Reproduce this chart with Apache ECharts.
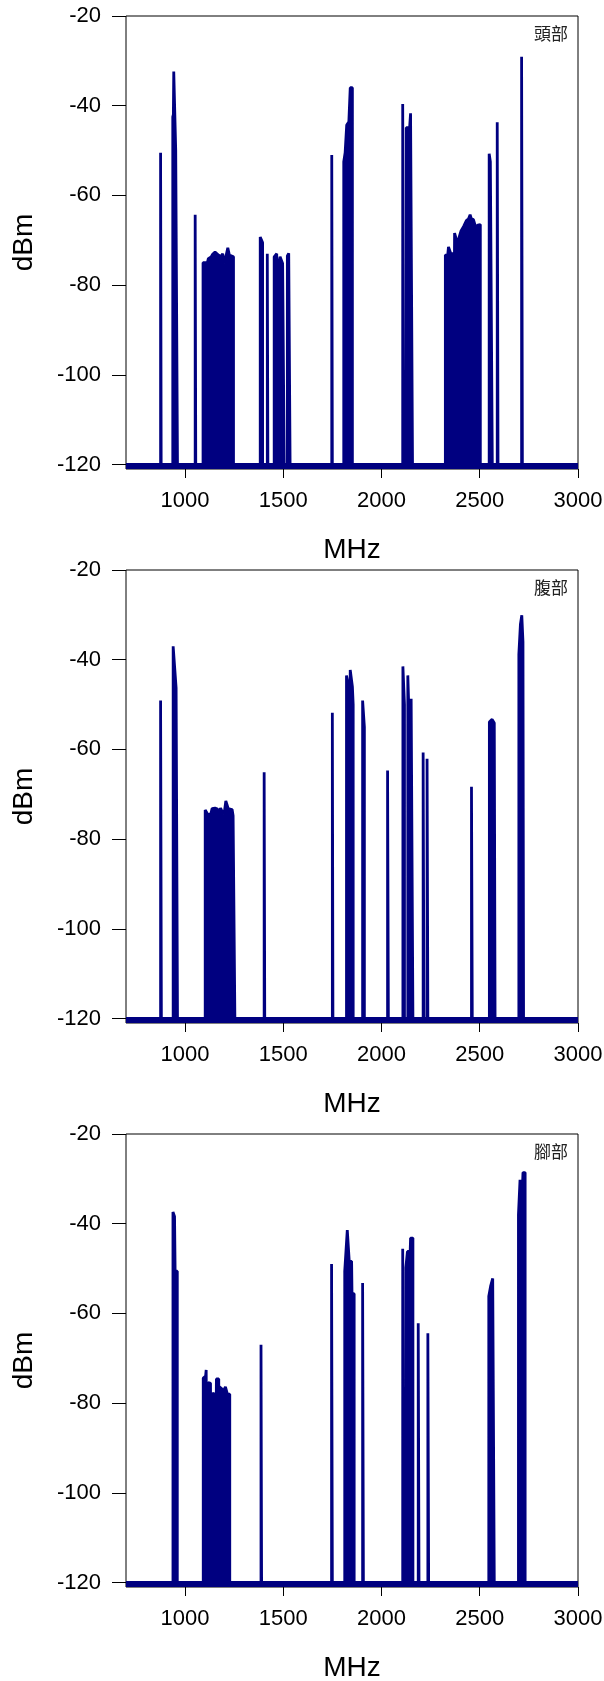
<!DOCTYPE html>
<html>
<head>
<meta charset="utf-8">
<script src="https://cdn.jsdelivr.net/npm/echarts@6/dist/echarts.min.js"></script>
<style>
html,body{margin:0;padding:0;background:#ffffff;}
#chart{width:604px;height:1681px;}
</style>
</head>
<body>
<div id="chart"></div>
<script>
// ---------------- data ----------------
const PANEL_NAMES = ['頭部', '腹部', '腳部'];
const X_NAME = 'MHz';
const Y_NAME = 'dBm';
const X_TICKS = [1000, 1500, 2000, 2500, 3000];
const Y_TICKS = [-120, -100, -80, -60, -40, -20];
const FREQ_MIN = 700;
const FREQ_MAX = 3000;
const DBM_MIN = -121;
const DBM_MAX = -20;
const NOISE_FLOOR = -120;

// Each band: points [MHz, dBm] of the trace above the noise floor
const headBands = [
  [[876,-50.5],[879,-50.5]],
  [[938,-42.5],[941,-42],[943,-32.4],[951,-32.4],[953,-49.9],[962,-49.9]],
  [[1052,-64.3],[1055,-64.3]],
  [[1092,-75.0],[1114,-75.0],[1119,-74.1],[1133,-73.7],[1141,-73.1],[1153,-72.6],[1162,-72.2],[1170,-73.3],[1184,-73.6],[1192,-73.0],[1201,-75.2],[1208,-73.7],[1218,-71.7],[1226,-73.3],[1235,-73.6],[1247,-73.7]],
  [[1383,-69.3],[1389,-69.3],[1395,-70.5]],
  [[1419,-73.0],[1422,-73.0]],
  [[1454,-73.7],[1462,-73.5],[1467,-73.0],[1473,-73.3]],
  [[1479,-74.8],[1484,-73.7],[1493,-73.7],[1497,-75.2],[1505,-75.2]],
  [[1521,-73.5],[1528,-72.9],[1535,-72.9]],
  [[1747,-51.0],[1750,-51.0]],
  [[1808,-52.5],[1814,-52.5],[1815,-50.5],[1822,-50.5],[1823,-44.3],[1834,-43.6],[1840,-43.6],[1841,-36],[1852,-36]],
  [[2108,-39.6],[2113,-39.6]],
  [[2126,-44.9],[2137,-44.9],[2138,-48.3],[2147,-48.3],[2148,-41.7],[2158,-41.7]],
  [[2325,-73.3],[2337,-73.3],[2341,-71.5],[2350,-71.5],[2353,-73.0],[2364,-73.0]],
  [[2372,-68.4],[2379,-68.8],[2386,-70.6],[2394,-69.5],[2404,-68.0],[2418,-66.9],[2432,-65.6],[2443,-65.2],[2451,-64.3],[2457,-65.2],[2468,-65.4],[2474,-65.6],[2480,-67.2],[2490,-66.6],[2503,-66.5]],
  [[2548,-50.7],[2553,-50.7],[2554,-52.5],[2564,-52.5]],
  [[2589,-43.7],[2593,-44.0]],
  [[2713,-29.1],[2717,-29.1]]
];

const bellyBands = [
  [[876,-49.1],[880,-49.1]],
  [[940,-37.0],[944,-37.0],[955,-46.3],[962,-46.3]],
  [[1103,-73.5],[1112,-73.5],[1118,-74.6],[1125,-74.6],[1132,-74.3],[1138,-73.2],[1146,-73.3],[1153,-73.1],[1160,-73.0],[1166,-73.3],[1173,-74.3],[1181,-73.1],[1188,-73.1],[1196,-74.5],[1202,-73.5],[1208,-71.5],[1214,-72.3],[1220,-73.2],[1230,-73.5],[1240,-73.4],[1245,-74.8],[1254,-75.0]],
  [[1403,-65.1],[1406,-65.1]],
  [[1750,-51.8],[1753,-51.8]],
  [[1822,-43.5],[1829,-43.5],[1833,-46.0]],
  [[1841,-42.3],[1846,-42.3],[1852,-46.0],[1856,-50.0]],
  [[1904,-49.1],[1908,-49.1],[1913,-55.0]],
  [[2031,-64.7],[2035,-64.7]],
  [[2109,-41.5],[2113,-41.5],[2117,-50.0]],
  [[2134,-43.5],[2138,-43.5],[2139,-50.7],[2150,-50.7],[2151,-48.7],[2160,-48.7]],
  [[2212,-60.7],[2216,-60.7]],
  [[2232,-62.1],[2236,-62.1]],
  [[2458,-68.3],[2462,-68.3]],
  [[2549,-53.9],[2558,-53.9],[2563,-53.3],[2568,-53.5],[2574,-54.1],[2578,-54.1]],
  [[2699,-38.8],[2703,-38.8],[2707,-32.1],[2711,-32.1],[2714,-30.1],[2717,-30.1],[2720,-36.0],[2723,-36.0]]
];

const footBands = [
  [[939,-37.4],[943,-37.4],[947,-38.4],[950,-50.6],[961,-50.6]],
  [[1093,-74.4],[1100,-74.0],[1105,-74.0],[1108,-72.6],[1114,-72.6]],
  [[1118,-75.4],[1124,-75.4],[1130,-75.6],[1134,-75.6]],
  [[1140,-77.8],[1152,-78.0]],
  [[1160,-74.6],[1172,-74.6]],
  [[1176,-76.4],[1188,-76.8]],
  [[1194,-77.4],[1200,-77.4],[1206,-76.4],[1212,-76.4],[1216,-78.0],[1228,-78.0]],
  [[1387,-67.0],[1390,-67.0]],
  [[1746,-49.0],[1750,-49.0]],
  [[1813,-50.6],[1822,-50.6],[1826,-41.4],[1831,-41.4],[1836,-48.4],[1848,-48.4],[1850,-55.6],[1861,-55.6]],
  [[1904,-53.2],[1908,-53.2]],
  [[2108,-45.6],[2112,-45.6]],
  [[2124,-49.8],[2130,-49.8],[2132,-46.2],[2146,-46.2],[2148,-43.2],[2160,-43.2]],
  [[2187,-62.2],[2191,-62.2]],
  [[2236,-64.4],[2240,-64.4]],
  [[2546,-56.2],[2554,-56.2],[2556,-53.8],[2564,-53.8],[2566,-52.2],[2574,-52.2]],
  [[2697,-38.0],[2703,-38.0],[2705,-30.2],[2711,-30.2],[2713,-36.8],[2718,-36.8],[2720,-28.6],[2731,-28.6]]
];

const PANEL_BANDS = [headBands, bellyBands, footBands];

// ---------------- build ----------------
function toTrace(bands) {
  const d = [[FREQ_MIN, NOISE_FLOOR]];
  bands.forEach(b => {
    d.push([b[0][0], NOISE_FLOOR]);
    b.forEach(p => d.push(p));
    d.push([b[b.length - 1][0], NOISE_FLOOR]);
  });
  d.push([FREQ_MAX, NOISE_FLOOR]);
  return d;
}

const NAVY = '#000080';
const FONT = "'Liberation Sans', Arial, sans-serif";
const GRID_TOPS = [16, 570, 1134];
const GRID_H = 453;
const plain = v => String(v);

const grids = [], xAxes = [], yAxes = [], series = [], titles = [];
PANEL_BANDS.forEach((bands, i) => {
  grids.push({
    left: 126, width: 452, top: GRID_TOPS[i], height: GRID_H,
    show: true, borderColor: '#000', borderWidth: 1, backgroundColor: 'transparent',
    containLabel: false, outerBoundsMode: 'none'
  });
  xAxes.push({
    type: 'value', gridIndex: i, min: FREQ_MIN, max: FREQ_MAX,
    name: X_NAME, nameLocation: 'middle', nameGap: 67,
    nameTextStyle: { fontFamily: FONT, fontSize: 28, color: '#000' },
    axisLine: { show: false },
    axisTick: { show: true, inside: false, length: 9, customValues: X_TICKS, lineStyle: { color: '#000', width: 1 } },
    axisLabel: { show: true, customValues: X_TICKS, formatter: plain, margin: 21, fontFamily: FONT, fontSize: 22, color: '#000', hideOverlap: false },
    splitLine: { show: false }
  });
  yAxes.push({
    type: 'value', gridIndex: i, min: DBM_MIN, max: DBM_MAX,
    name: Y_NAME, nameLocation: 'middle', nameGap: 88, nameRotate: 90,
    nameTextStyle: { fontFamily: FONT, fontSize: 28, color: '#000' },
    axisLine: { show: false },
    axisTick: { show: true, inside: false, length: 14, customValues: Y_TICKS, lineStyle: { color: '#000', width: 1 } },
    axisLabel: { show: true, customValues: Y_TICKS, formatter: plain, margin: 25, fontFamily: FONT, fontSize: 22, color: '#000', hideOverlap: false },
    splitLine: { show: false }
  });
  series.push({
    type: 'line', xAxisIndex: i, yAxisIndex: i,
    data: toTrace(bands),
    showSymbol: false, symbol: 'none', smooth: false, sampling: null,
    lineStyle: { color: NAVY, width: 2.8, join: 'bevel' },
    itemStyle: { color: NAVY },
    areaStyle: { color: NAVY, opacity: 1, origin: 'start' },
    clip: true, silent: true
  });
  titles.push({
    text: PANEL_NAMES[i], right: 36, top: GRID_TOPS[i] + 9, padding: 0,
    textStyle: { fontFamily: "'Noto Sans CJK TC', 'Noto Sans CJK SC', sans-serif", fontSize: 17, fontWeight: 'normal', color: '#222' }
  });
});

const chart = echarts.init(document.getElementById('chart'), null, { renderer: 'canvas', width: 604, height: 1681 });
chart.setOption({
  animation: false,
  backgroundColor: '#ffffff',
  title: titles,
  grid: grids,
  xAxis: xAxes,
  yAxis: yAxes,
  series: series
});
</script>
</body>
</html>
